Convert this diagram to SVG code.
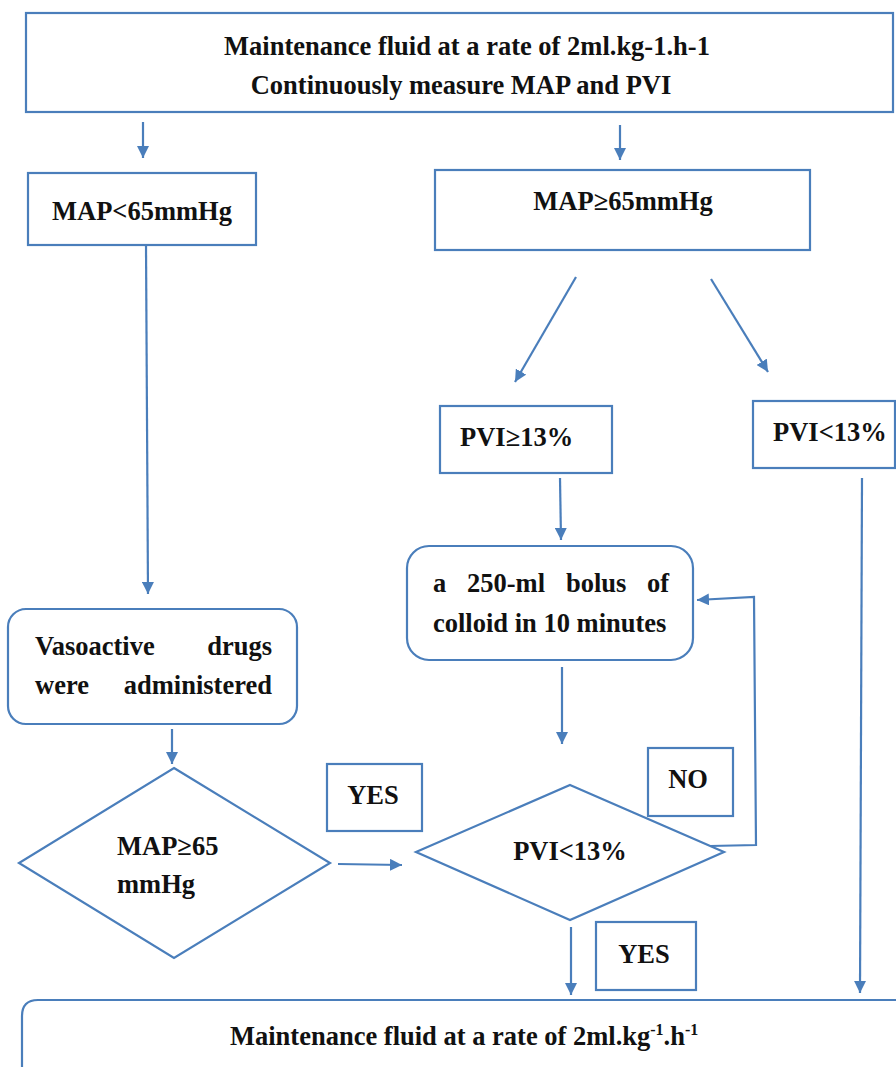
<svg xmlns="http://www.w3.org/2000/svg" width="896" height="1067" viewBox="0 0 896 1067">
<style>
.box{fill:#fff;stroke:#4a7ebb;stroke-width:2.2}
.ln{fill:none;stroke:#4a7ebb;stroke-width:2.2}
.t{font-family:'Liberation Serif','Times New Roman','DejaVu Serif',serif;font-weight:bold;font-size:26.5px;fill:#111}
.m{text-anchor:middle}
.e{text-anchor:end}
</style>
<defs>
<marker id="ah" viewBox="0 0 12 12" refX="12" refY="6" markerWidth="12" markerHeight="12" markerUnits="userSpaceOnUse" orient="auto">
<path d="M0,0 L12,6 L0,12 z" fill="#4a7ebb"/>
</marker>
</defs>
<rect width="896" height="1067" fill="#fff"/>

<g id="top">
<rect class="box" x="26" y="13" width="867" height="99"/>
<text class="t m" x="467" y="55">Maintenance fluid at a rate of 2ml.kg-1.h-1</text>
<text class="t m" x="461" y="94">Continuously measure MAP and PVI</text>
</g>

<g id="mapLow">
<rect class="box" x="28" y="173" width="228" height="72"/>
<text class="t m" x="142" y="220">MAP&lt;65mmHg</text>
</g>

<g id="mapHigh">
<rect class="box" x="435" y="170" width="375" height="80"/>
<text class="t m" x="623" y="210">MAP≥65mmHg</text>
</g>

<g id="pviHigh">
<rect class="box" x="440" y="406" width="172" height="67"/>
<text class="t" x="460" y="446">PVI≥13%</text>
</g>

<g id="pviLow">
<rect class="box" x="753" y="401" width="142" height="67"/>
<text class="t" x="773" y="441">PVI&lt;13%</text>
</g>

<g id="bolus">
<rect class="box" x="407" y="546" width="286" height="114" rx="22"/>
<text class="t" x="433" y="592">a</text>
<text class="t" x="467" y="592">250-ml</text>
<text class="t" x="566" y="592">bolus</text>
<text class="t e" x="669" y="592">of</text>
<text class="t" x="433" y="632">colloid in 10 minutes</text>
</g>

<g id="vaso">
<rect class="box" x="8" y="609" width="289" height="115" rx="18"/>
<text class="t" x="35" y="655">Vasoactive</text>
<text class="t e" x="272" y="655">drugs</text>
<text class="t" x="35" y="694">were</text>
<text class="t e" x="272" y="694">administered</text>
</g>

<g id="mapDiamond">
<polygon class="box" points="174,768 330,863 174,958 19,863"/>
<text class="t" x="117" y="855">MAP≥65</text>
<text class="t" x="117" y="893">mmHg</text>
</g>

<g id="yes1">
<rect class="box" x="327" y="764" width="95" height="67"/>
<text class="t m" x="373" y="804">YES</text>
</g>

<g id="pviDiamond">
<polygon class="box" points="570,785 724,852 570,920 416,852"/>
<text class="t m" x="570" y="860">PVI&lt;13%</text>
</g>

<g id="no">
<rect class="box" x="648" y="748" width="85" height="68"/>
<text class="t m" x="688" y="788">NO</text>
</g>

<g id="yes2">
<rect class="box" x="596" y="922" width="100" height="68"/>
<text class="t m" x="644" y="963">YES</text>
</g>

<g id="bottom">
<path class="box" d="M22,1085 L22,1016 Q22,1000 38,1000 L910,1000 L910,1085 Z"/>
<text class="t" x="230" y="1045">Maintenance fluid at a rate of 2ml.kg<tspan font-size="16" dy="-10">-1</tspan><tspan dy="10">.h</tspan><tspan font-size="16" dy="-10">-1</tspan></text>
</g>

<g id="connectors">
<line class="ln" x1="143" y1="122" x2="143" y2="158" marker-end="url(#ah)"/>
<line class="ln" x1="620" y1="125" x2="620" y2="160" marker-end="url(#ah)"/>
<line class="ln" x1="576" y1="277" x2="515" y2="382" marker-end="url(#ah)"/>
<line class="ln" x1="711" y1="279" x2="768" y2="372" marker-end="url(#ah)"/>
<line class="ln" x1="146" y1="245" x2="148" y2="594" marker-end="url(#ah)"/>
<line class="ln" x1="560" y1="478" x2="561" y2="540" marker-end="url(#ah)"/>
<line class="ln" x1="862" y1="478" x2="860" y2="993" marker-end="url(#ah)"/>
<line class="ln" x1="562" y1="667" x2="562" y2="744" marker-end="url(#ah)"/>
<line class="ln" x1="172" y1="729" x2="172" y2="764" marker-end="url(#ah)"/>
<line class="ln" x1="338" y1="864" x2="402" y2="865" marker-end="url(#ah)"/>
<polyline class="ln" points="710,846 756,845 754,597 697,600" marker-end="url(#ah)"/>
<line class="ln" x1="571" y1="927" x2="571" y2="995" marker-end="url(#ah)"/>
</g>
</svg>
